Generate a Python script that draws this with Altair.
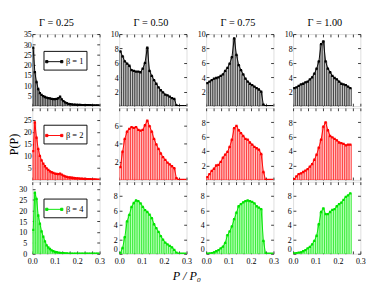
import altair as alt
import pandas as pd

GAMMA_TITLES = ["Γ = 0.25", "Γ = 0.50", "Γ = 0.75", "Γ = 1.00"]
BETA_LABELS = ["β = 1", "β = 2", "β = 4"]
LINE_COLORS = ["#000000", "#ff0000", "#00e400"]
FILL_COLORS = ["#c8c8c8", "#ffc0c0", "#b4ffb4"]
BIN_WIDTHS = [0.0075, 0.01, 0.01, 0.01]

# ---- histogram heights, beta = 1 (top row) ----
b1_g025 = [28.4, 16.5, 11.7, 8.3, 6.3, 5.4, 4.8, 4.4, 4.1, 3.9, 3.7, 3.5, 3.4, 3.4,
           3.5, 3.8, 4.6, 3.3, 2.4, 1.8, 1.4, 1.1, 0.9, 0.8, 0.7, 0.7, 0.6, 0.6,
           0.6, 0.5, 0.5, 0.5, 0.4, 0.4, 0.4, 0.3, 0.3, 0.3, 0.3, 0.3]
b1_g050 = [7.6, 6.9, 6.2, 5.9, 5.6, 5.0, 4.9, 4.8, 4.8, 4.7, 5.2, 6.0, 8.1, 4.9,
           4.2, 3.6, 3.1, 2.6, 2.2, 1.9, 1.6, 1.5, 1.3, 1.1, 1.0, 0.1, 0, 0, 0, 0]
b1_g075 = [3.2, 3.4, 3.6, 3.8, 3.9, 4.0, 4.2, 4.4, 4.9, 5.3, 5.9, 6.8, 9.4, 7.1,
           5.7, 5.0, 4.4, 3.8, 3.4, 3.1, 2.9, 2.7, 2.5, 2.3, 2.0, 0.2, 0, 0, 0, 0]
b1_g100 = [2.5, 2.6, 2.8, 3.0, 3.1, 3.3, 3.4, 3.7, 4.0, 4.5, 5.2, 6.2, 8.6, 9.0,
           6.2, 5.2, 4.7, 4.2, 3.9, 3.7, 3.4, 3.1, 3.0, 2.9, 2.7, 2.5]

# ---- beta = 2 (middle row) ----
b2_g025 = [12.0, 24.0, 17.6, 12.9, 10.0, 8.1, 6.8, 5.7, 4.8, 4.2, 3.6, 3.2, 2.9, 2.6,
           2.5, 2.4, 2.6, 2.2, 1.8, 1.5, 1.3, 1.1, 1.0, 0.9, 0.8, 0.7, 0.6, 0.6,
           0.5, 0.5, 0.4, 0.4, 0.3, 0.3, 0.3, 0.2, 0.2, 0.2, 0.1, 0.1]
b2_g050 = [1.4, 3.1, 4.5, 5.3, 5.6, 5.8, 5.7, 5.8, 5.5, 5.4, 5.5, 6.0, 6.5, 5.9,
           5.3, 4.5, 3.9, 3.4, 2.9, 2.5, 2.2, 1.9, 1.7, 1.5, 1.3, 0.2, 0, 0, 0, 0]
b2_g075 = [0.4, 0.8, 1.25, 1.55, 2.0, 2.1, 2.5, 3.1, 3.5, 3.9, 4.6, 5.6, 7.2, 7.5,
           6.9, 6.5, 6.1, 5.7, 5.6, 5.2, 4.9, 4.6, 4.4, 4.2, 3.6, 1.1, 0, 0, 0, 0]
b2_g100 = [0.1, 0.5, 0.8, 0.9, 1.1, 1.3, 1.5, 1.85, 2.2, 2.8, 3.5, 4.5, 5.6, 7.4,
           8.0, 6.9, 6.1, 5.9, 5.7, 5.5, 5.2, 5.1, 5.0, 4.8, 4.9, 4.9]

# ---- beta = 4 (bottom row) ----
b4_g025 = [11.0, 28.3, 25.4, 17.7, 13.9, 10.4, 7.9, 5.7, 3.9, 2.9, 2.2, 1.6, 1.2, 0.9,
           0.7, 0.5, 0.4, 0.3, 0.3, 0.2, 0.2, 0.1, 0.1, 0.1, 0.1, 0.1, 0, 0, 0, 0,
           0, 0, 0, 0, 0, 0, 0, 0, 0, 0]
b4_g050 = [0.1, 0.8, 2.3, 4.5, 5.4, 6.5, 7.05, 7.4, 7.3, 7.0, 6.5, 6.05, 5.8, 5.45,
           4.95, 4.1, 3.55, 3.05, 2.45, 1.95, 1.55, 1.3, 1.1, 0.9, 0.55, 0.15, 0, 0, 0, 0]
b4_g075 = [0.0, 0.05, 0.1, 0.2, 0.35, 0.5, 0.75, 1.0, 1.5, 2.6, 3.1, 3.8, 4.8, 5.7,
           6.6, 6.9, 7.15, 7.3, 7.4, 7.3, 7.2, 7.0, 6.6, 6.4, 6.2, 1.8, 0, 0, 0, 0]
b4_g100 = [0.05, 0.1, 0.15, 0.2, 0.35, 0.5, 0.75, 0.95, 1.3, 1.8, 2.5, 4.1, 5.8, 6.3,
           5.5, 5.5, 5.8, 6.1, 6.2, 6.6, 6.9, 7.1, 7.5, 7.9, 8.1, 8.4]

SERIES = [[b1_g025, b1_g050, b1_g075, b1_g100],
          [b2_g025, b2_g050, b2_g075, b2_g100],
          [b4_g025, b4_g050, b4_g075, b4_g100]]

Y_MAX = [[35, 10, 10, 10], [30, 7.9, 10, 10], [33.3, 10, 10, 10]]
Y_TICKS = [
    [[5, 10, 15, 20, 25, 30, 35], [2, 4, 6, 8, 10], [2, 4, 6, 8, 10], [2, 4, 6, 8, 10]],
    [[5, 10, 15, 20, 25], [2, 4, 6], [2, 4, 6, 8], [2, 4, 6, 8]],
    [[0, 5, 10, 15, 20, 25, 30], [0, 2, 4, 6, 8], [0, 2, 4, 6, 8], [0, 2, 4, 6, 8]],
]
X_TICKS = [0.0, 1 / 30, 2 / 30, 0.1, 4 / 30, 5 / 30, 0.2, 7 / 30, 8 / 30, 0.3]

W, H = 72, 77
TICK = 3
SERIF = "Liberation Serif"
LEGEND_PATH = "M-1,0L1,0M-1.15,-0.15h0.3v0.3h-0.3zM0.85,-0.15h0.3v0.3h-0.3z"


def panel(r, c):
    vals = SERIES[r][c]
    bw = BIN_WIDTHS[c]
    df = pd.DataFrame({"x": [bw / 2 + bw * i for i in range(len(vals))], "v": vals})
    df["lab"] = BETA_LABELS[r]
    lc, fc = LINE_COLORS[r], FILL_COLORS[r]
    xs = alt.Scale(domain=[0, 0.3], nice=False, zero=False)
    ys = alt.Scale(domain=[0, Y_MAX[r][c]], nice=False)
    base = alt.Chart(df).transform_calculate(
        x0=f"datum.x - {bw / 2}", x1=f"datum.x + {bw / 2}")

    common = dict(domain=False, grid=False, tickSize=TICK, offset=-TICK, tickColor="black",
                  tickWidth=0.8, labelFont=SERIF, labelFontSize=8.5, labelColor="black")
    if r == 2:
        bottom = alt.Axis(orient="bottom", values=X_TICKS, labelPadding=3,
                          labelExpr="abs(datum.value*10 - round(datum.value*10)) < 0.000001 ? format(datum.value, '.1f') : ''",
                          labelFlush=False, labelOverlap=False, **common)
    else:
        bottom = alt.Axis(orient="bottom", values=X_TICKS, labels=False, **common)
    ytitle = None
    if r == 2 and c == 0:
        lpad = 6
    elif r == 2:
        lpad = 2
    else:
        lpad = 1
    left_kw = dict(orient="left", values=Y_TICKS[r][c], labelPadding=lpad,
                   format="d", labelFlush=(r == 2 and c > 0), labelOverlap=False, **common)
    if r == 1 and c == 0:
        left_kw.update(titleFont=SERIF, titleFontSize=13, titleFontWeight="normal",
                       titleColor="black", titlePadding=3)
        ytitle = "P(P)"
    left = alt.Axis(**left_kw)
    top = alt.Axis(orient="top", values=X_TICKS, labels=False, **common)
    right = alt.Axis(orient="right", values=Y_TICKS[r][c], labels=False, **common)

    bars = base.mark_bar(fill=fc, stroke=lc, strokeWidth=0.6, clip=True).encode(
        x=alt.X("x0:Q", scale=xs, axis=bottom, title=None),
        x2="x1:Q",
        y=alt.Y("v:Q", scale=ys, axis=left, title=ytitle),
        y2=alt.datum(0),
    )
    line_enc = dict(x=alt.X("x:Q", scale=xs, axis=None), y=alt.Y("v:Q", scale=ys, axis=None))
    if c == 0:
        line_enc["color"] = alt.Color(
            "lab:N", scale=alt.Scale(domain=[BETA_LABELS[r]], range=[lc]),
            legend=alt.Legend(orient="none", legendX=12, legendY=18, title=None,
                              strokeColor="black", fillColor="white", padding=3,
                              labelFont=SERIF, labelFontSize=9, labelColor="black",
                              symbolType=LEGEND_PATH, symbolSize=256, symbolStrokeWidth=1,
                              symbolStrokeColor=lc, symbolFillColor=lc, labelOffset=4))
        line = base.mark_line(strokeWidth=1, clip=True).encode(**line_enc)
    else:
        line = base.mark_line(color=lc, strokeWidth=1, clip=True).encode(**line_enc)
    pts = base.mark_square(color=lc, size=6, opacity=1, clip=True).encode(
        x=alt.X("x:Q", scale=xs, axis=top, title=None),
        y=alt.Y("v:Q", scale=ys, axis=right, title=None),
    )
    return alt.layer(bars, line, pts).resolve_axis(
        x="independent", y="independent").properties(width=W, height=H)


columns = []
for c in range(4):
    col = alt.vconcat(*[panel(r, c) for r in range(3)], spacing=0,
                      title=alt.TitleParams(GAMMA_TITLES[c], font=SERIF, fontSize=11,
                                            fontWeight=400, color="black",
                                            anchor="middle", offset=2))
    col = col.resolve_scale(color="independent").resolve_legend(color="independent")
    columns.append(col)

chart = alt.hconcat(*columns, spacing=5).resolve_scale(
    color="independent").resolve_legend(color="independent").properties(
    title=alt.TitleParams("P / P₀", orient="bottom", anchor="middle", font=SERIF,
                          fontStyle="italic", fontSize=13, fontWeight=400,
                          color="black", offset=6),
    padding=0,
).configure_view(stroke="black", strokeWidth=1).configure_title(
    font=SERIF, fontWeight=400, color="black"
).configure(background="white")

chart.save("out.html", embed_options={"renderer": "svg", "actions": False})
